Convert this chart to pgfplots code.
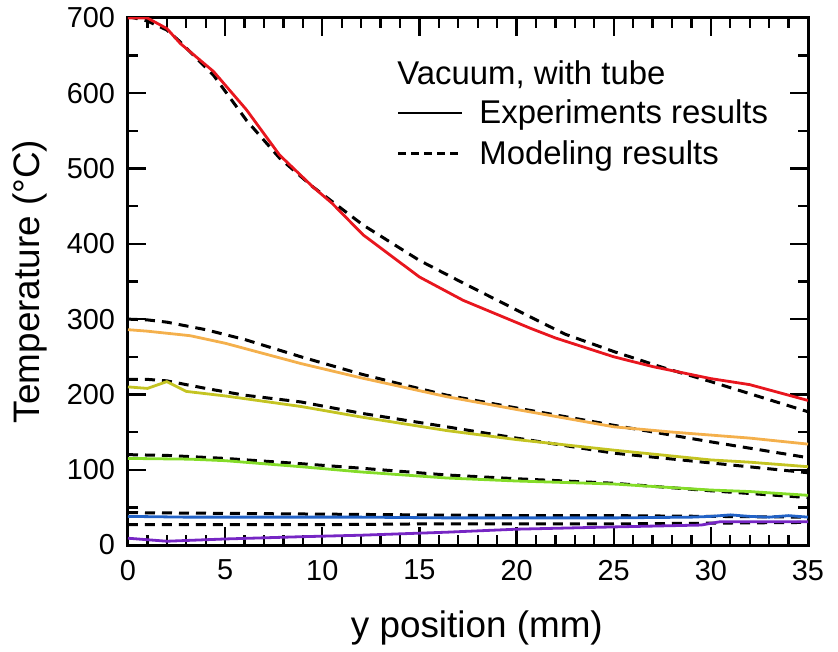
\documentclass[border=0pt]{standalone}
\usepackage{fontspec}
\setmainfont{Liberation Sans}
\usepackage{pgfplots}
\pgfplotsset{compat=1.18}
\definecolor{cred}{HTML}{E8161E}
\definecolor{corange}{HTML}{F4B04C}
\definecolor{cyellow}{HTML}{C4C422}
\definecolor{cgreen}{HTML}{84DC28}
\definecolor{cblue}{HTML}{2262C6}
\definecolor{cpurple}{HTML}{7626C4}
\begin{document}
\begin{tikzpicture}
\begin{axis}[
  scale only axis,
  width=340bp, height=263.5bp,
  xmin=0, xmax=35, ymin=0, ymax=700,
  xtick={0,5,...,35}, ytick={0,100,...,700},
  minor x tick num=4, minor y tick num=1,
  tick align=inside,
  major tick length=9bp, minor tick length=5bp,
  axis line style={line width=1.5bp},
  every tick/.style={black, line width=1.2bp},
  /pgf/number format/assume math mode=true,
  tick label style={font=\fontsize{14.5}{16}\selectfont},
  xticklabel style={yshift=-4bp},
  yticklabel style={xshift=-3bp},
  label style={font=\fontsize{18.5}{20}\selectfont},
  xlabel={y position (mm)},
  ylabel={Temperature (°C)},
  xlabel style={at={(axis description cs:0.513,-0.1575)}, anchor=center},
  ylabel style={at={(axis description cs:-0.144,0.5)}, anchor=center, rotate=0},
  legend style={draw=none, fill=none, font=\fontsize{16.5}{18}\selectfont,
    at={(axis description cs:0.395,0.85)}, anchor=north west,
    row sep=5bp, inner sep=0pt, nodes={inner sep=1bp}},
  legend cell align=left,
  clip=true,
]
% legend entries
\addlegendimage{legend image code/.code={\draw[black, line width=1.2bp] (0bp,0bp) -- (32bp,0bp);}}
\addlegendentry{\hspace*{7bp}Experiments results}
\addlegendimage{legend image code/.code={\draw[black, line width=1.2bp, dash pattern=on 4bp off 2.5bp] (0bp,0bp) -- (32bp,0bp);}}
\addlegendentry{\hspace*{7bp}Modeling results}

% Models (dashed)
\addplot[black, line width=1.5bp, dash pattern=on 5bp off 3.5bp, forget plot] coordinates {
(0,702) (1,696) (2,684) (2.7,668) (4.4,624) (6.1,564) (7.8,514) (9.5,476) (12.1,425) (15,378) (17.25,348) (20.7,303) (22.5,280) (25,257) (27.5,236) (30,217) (32.5,197) (35,177)};
\addplot[black, line width=1.5bp, dash pattern=on 5bp off 3.5bp, forget plot] coordinates {
(0,300) (1,299) (2,296) (4,286) (6,273) (8.9,250) (12,227) (14,214) (16.4,199) (20,182) (25,159) (30,137) (35,116)};
\addplot[black, line width=1.5bp, dash pattern=on 5bp off 3.5bp, forget plot] coordinates {
(0,220) (1,220) (2,218) (4,208) (6,199) (8.9,190) (12,175) (16.4,157) (20,142) (25,122) (30,109) (35,96)};
\addplot[black, line width=1.5bp, dash pattern=on 5bp off 3.5bp, forget plot] coordinates {
(0,120) (2,119) (5,115) (8.9,108) (12,102) (16.4,93) (20,88) (25,82) (30,72) (35,63)};
\addplot[black, line width=1.5bp, dash pattern=on 5bp off 3.5bp, forget plot] coordinates {
(0,43) (5,42) (10,41) (15,40) (20,39) (25,39) (30,38) (35,37)};
\addplot[black, line width=1.5bp, dash pattern=on 5bp off 3.5bp, forget plot] coordinates {
(0,27) (5,27) (10,27) (15,28) (20,28) (25,28) (30,29) (35,30)};

% Experiments (solid)
\addplot[cred, line width=1.4bp, forget plot] coordinates {
(0,700) (1,700) (2,686) (2.7,666) (4.4,629) (6.1,578) (7.8,518) (9.5,476) (10.5,454) (12.1,412) (15,356) (17.25,325) (20.7,288) (22,275) (25,250) (27,237) (30,221) (32,213) (33,206) (35,192)};
\addplot[corange, line width=1.4bp, forget plot] coordinates {
(0,286) (1,284) (3.2,278) (5,268) (8.9,241) (12,222) (16.4,197) (20,180) (25,157) (28,150) (30,146) (32,142) (35,134)};
\addplot[cyellow, line width=1.4bp, forget plot] coordinates {
(0,210) (1,208) (2,217) (3,204) (5,198) (8.9,184) (12,170) (16.4,152) (20,140) (25,126) (30,113) (32,110) (35,104)};
\addplot[cgreen, line width=1.4bp, forget plot] coordinates {
(0,115) (3.2,114) (5,112) (8.9,104) (12,97) (16.4,89) (20,85) (25,81) (30,73) (32,71) (35,66)};
\addplot[cblue, line width=1.4bp, forget plot] coordinates {
(0,38) (3,37) (8.9,37) (12,37) (16.4,36) (20,36) (25,36) (29,37) (30,38) (31,40) (32,38) (33,37) (34,39) (35,37)};
\addplot[cpurple, line width=1.4bp, forget plot] coordinates {
(0,9) (2,5) (5,8) (8.9,11) (12,13) (16.4,17) (20,21) (25,24) (29.5,26.5) (30.5,31) (33,31) (35,31)};

\node[anchor=base west, inner sep=0pt, font=\fontsize{16.5}{18}\selectfont] at (rel axis cs:0.3956,0.873) {Vacuum, with tube};
\end{axis}
\path ([shift={(-64bp,-50bp)}]current axis.south west) rectangle ([shift={(15bp,9bp)}]current axis.north east);
\end{tikzpicture}
\end{document}
